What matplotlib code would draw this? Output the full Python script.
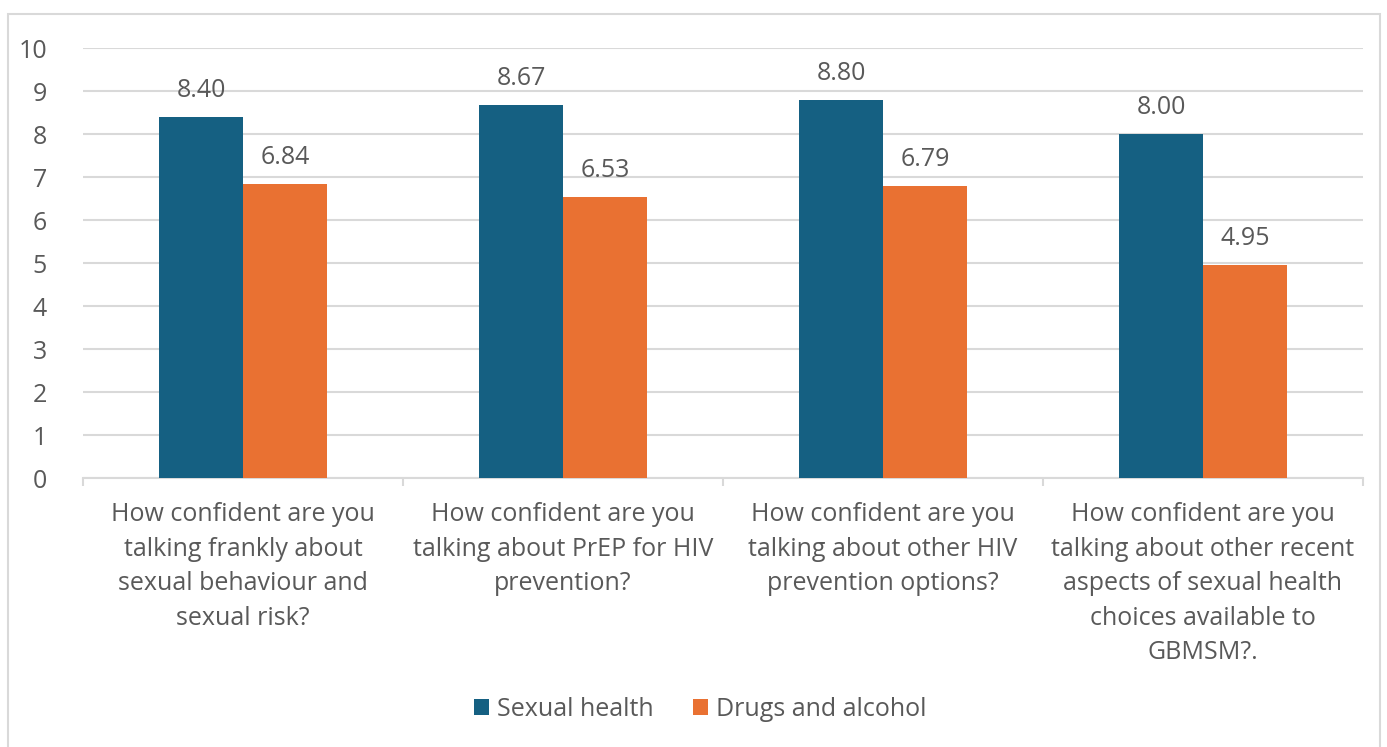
import matplotlib.pyplot as plt
import matplotlib.patches as mpatches
import numpy as np

plt.rcParams['font.family'] = ['Open Sans', 'DejaVu Sans']

categories = [
    "How confident are you\ntalking frankly about\nsexual behaviour and\nsexual risk?",
    "How confident are you\ntalking about PrEP for HIV\nprevention?",
    "How confident are you\ntalking about other HIV\nprevention options?",
    "How confident are you\ntalking about other recent\naspects of sexual health\nchoices available to\nGBMSM?.",
]
sexual_health = [8.40, 8.67, 8.80, 8.00]
drugs_alcohol = [6.84, 6.53, 6.79, 4.95]
series_names = ["Sexual health", "Drugs and alcohol"]

blue = "#156082"
orange = "#E97132"
text_col = "#595959"
grid_col = "#D9D9D9"

fig = plt.figure(figsize=(13.87, 7.47), dpi=100)
ax = fig.add_axes([0.0598, 0.36, 0.9229, 0.5757])

# outer chart frame
fig.patches.append(mpatches.Rectangle((8 / 1387, -0.05), 1372 / 1387, 1.05 - 14 / 747,
                                      transform=fig.transFigure, fill=False,
                                      edgecolor=grid_col, linewidth=1.5))

x = np.arange(len(categories))
w = 0.2625
b1 = ax.bar(x - w / 2, sexual_health, w, color=blue, label=series_names[0], zorder=3)
b2 = ax.bar(x + w / 2, drugs_alcohol, w, color=orange, label=series_names[1], zorder=3)
ax.bar_label(b1, fmt="%.2f", padding=10, fontsize=18, color=text_col)
ax.bar_label(b2, fmt="%.2f", padding=10, fontsize=18, color=text_col)

ax.set_ylim(0, 10)
ax.set_xlim(-0.5, len(categories) - 0.5)
ax.set_yticks(range(0, 11))
ax.tick_params(axis='y', length=0, labelsize=18, labelcolor=text_col, pad=26)
ax.yaxis.grid(True, color=grid_col, linewidth=1.5, zorder=0)

# category boundaries get the small tick marks, labels sit in the middle
ax.set_xticks(np.arange(-0.5, len(categories)), minor=False)
ax.set_xticklabels([])
ax.tick_params(axis='x', length=6, color=grid_col, width=1.5)
for xi, lab in zip(x, categories):
    ax.text(xi, -0.56, lab, ha='center', va='top', fontsize=18, color=text_col,
            linespacing=1.5)

for s in ['top', 'right', 'left']:
    ax.spines[s].set_visible(False)
ax.spines['bottom'].set_color(grid_col)
ax.spines['bottom'].set_linewidth(1.5)

fig.legend(loc='center', bbox_to_anchor=(0.505, 0.05), ncol=2, frameon=False,
           fontsize=18, labelcolor=text_col, handlelength=0.6, handleheight=0.6,
           handletextpad=0.3, columnspacing=1.6)

fig.savefig("out.png", dpi=100)
